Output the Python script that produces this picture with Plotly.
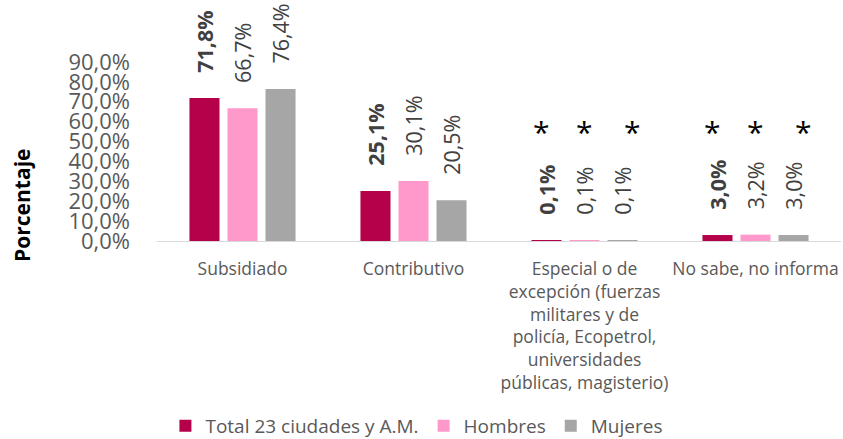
import plotly.graph_objects as go

categories = ["Subsidiado", "Contributivo",
              "Especial o de<br>excepción (fuerzas<br>militares y de<br>policía, Ecopetrol,<br>universidades<br>públicas, magisterio)",
              "No sabe, no informa"]
series_names = ["Total 23 ciudades y A.M.", "Hombres", "Mujeres"]
total = [71.8, 25.1, 0.1, 3.0]
hombres = [66.7, 30.1, 0.1, 3.2]
mujeres = [76.4, 20.5, 0.1, 3.0]
tick_vals = [0, 10, 20, 30, 40, 50, 60, 70, 80, 90]
starred = [2, 3]

colors = ["#B5004A", "#FF99CC", "#A6A6A6"]
FONT = "Open Sans"

def fmt(v):
    return ("%.1f%%" % v).replace(".", ",")

PAD = "\u00a0" * 4
fig = go.Figure()
for name, vals, col, bold in zip(series_names, [total, hombres, mujeres], colors, [True, False, False]):
    txt = [(PAD + "<b>%s</b>" if bold else PAD + "%s") % fmt(v) for v in vals]
    fig.add_trace(go.Bar(
        name=name, x=categories, y=vals, marker=dict(color=col, line=dict(width=0)),
        text=txt, textposition="outside", textangle=-90, constraintext="none",
        textfont=dict(family=FONT, size=21.5, color="#404040"),
        cliponaxis=False,
    ))

shifts = [-43, 0, 48]
for i in starred:
    for s in shifts:
        fig.add_annotation(x=categories[i], y=55, text="*", showarrow=False,
                           xshift=s, font=dict(family=FONT, size=30, color="#000000"))

fig.add_annotation(xref="paper", yref="paper", x=-0.22, y=-0.115, text="<b>Porcentaje</b>",
                   textangle=-90, showarrow=False, font=dict(family=FONT, size=21, color="#000000"))

fig.update_layout(
    width=843, height=439,
    margin=dict(l=157, r=2, t=42, b=198, autoexpand=False),
    paper_bgcolor="white", plot_bgcolor="white",
    barmode="group", bargap=0.333, bargroupgap=0.21,
    legend=dict(orientation="h", x=0.38, xanchor="center", y=-1.025, yanchor="bottom",
                font=dict(family=FONT, size=19, color="#595959"), traceorder="normal",
                itemwidth=30),
    showlegend=True,
)
fig.update_yaxes(range=[0, 100], tickvals=tick_vals,
                 ticktext=[fmt(v) for v in tick_vals],
                 tickfont=dict(family=FONT, size=22, color="#595959"),
                 showgrid=False, zeroline=False, showline=False, ticklabelstandoff=26,
                 automargin=False)
fig.update_xaxes(showline=True, linecolor="#D9D9D9", linewidth=1, tickangle=0,
                 tickfont=dict(family=FONT, size=17.5, color="#595959"),
                 ticklabelstandoff=12, automargin=False)

fig.write_html("out.html", config={"displayModeBar": False},
               post_script="document.body.style.margin='0px';")
